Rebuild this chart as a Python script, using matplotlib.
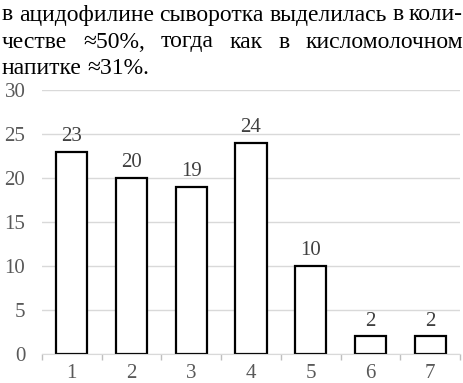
import matplotlib.pyplot as plt
from matplotlib.ticker import FixedLocator

# data
categories = ['1', '2', '3', '4', '5', '6', '7']
values = [23, 20, 19, 24, 10, 2, 2]
y_ticks = [0, 5, 10, 15, 20, 25, 30]

para_lines = [
    ("в ацидофилине сыворотка выделилась в коли-", True),
    ("честве ≈50%, тогда как в кисломолочном", True),
    ("напитке ≈31%.", False),
]

plt.rcParams['font.family'] = ['Liberation Serif', 'DejaVu Serif']

W, H = 464, 383
fig = plt.figure(figsize=(W / 100, H / 100), dpi=100)
renderer = fig.canvas.get_renderer()

# justified paragraph text above the chart
para_size = 17
x_left, x_right = 2, 463
line_y = [15, 42, 68]
space_w = fig.text(0, 0, ' ', fontsize=para_size).get_window_extent(renderer).width
for (line, justify), yc in zip(para_lines, line_y):
    words = line.split(' ')
    texts = [fig.text(0, 1 - yc / H, w, fontsize=para_size, va='center', ha='left',
                      color='black') for w in words]
    widths = [t.get_window_extent(renderer).width for t in texts]
    if justify and len(words) > 1:
        gap = (x_right - x_left - sum(widths)) / (len(words) - 1)
    else:
        gap = space_w
    x = x_left
    for t, w in zip(texts, widths):
        t.set_x(x / W)
        x += w + gap

ax = fig.add_axes([42 / W, 1 - 354 / H, (460 - 42) / W, (354 - 90) / H])
pos = range(len(categories))
ax.bar(pos, values, width=0.52, facecolor='white', edgecolor='black',
       linewidth=1.6, zorder=3)
for p, v in zip(pos, values):
    ax.annotate(str(v), (p, v), xytext=(0, 4), textcoords='offset points',
                ha='center', va='bottom', fontsize=15, color='#404040')

ax.set_xlim(-0.5, len(categories) - 0.5)
ax.set_ylim(0, 30)
ax.set_yticks(y_ticks)
ax.set_xticks(list(pos))
ax.set_xticklabels(categories)
ax.xaxis.set_minor_locator(FixedLocator([i - 0.5 for i in range(len(categories) + 1)]))
ax.tick_params(axis='x', which='major', length=0, pad=7, labelsize=15,
               labelcolor='#595959')
ax.tick_params(axis='x', which='minor', length=4, color='#bfbfbf', width=1)
ax.tick_params(axis='y', length=0, pad=12, labelsize=15, labelcolor='#595959')
for lab in ax.get_yticklabels():
    lab.set_horizontalalignment('right')
ax.grid(axis='y', color='#d9d9d9', linewidth=1, zorder=0)
for s in ['top', 'right', 'left']:
    ax.spines[s].set_visible(False)
ax.spines['bottom'].set_color('#d9d9d9')
ax.spines['bottom'].set_zorder(4)

fig.savefig('out.png', dpi=100)
